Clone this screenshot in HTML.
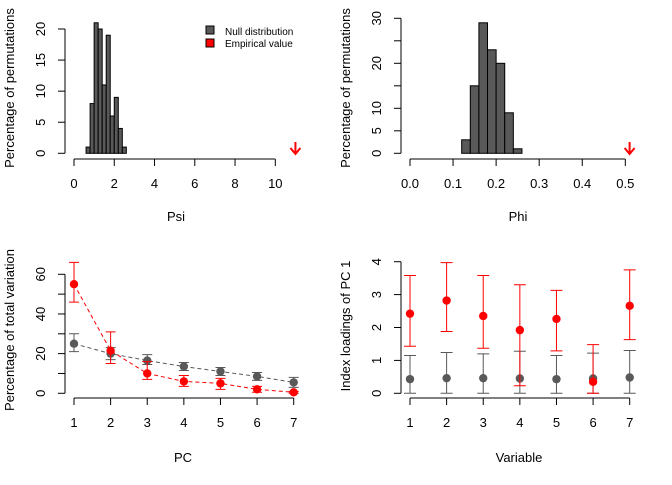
<!DOCTYPE html>
<html><head><meta charset="utf-8"><style>
body{margin:0;background:#fff;width:672px;height:480px;overflow:hidden}
svg{font-family:"Liberation Sans",sans-serif}
</style></head><body>
<svg id="s" width="672" height="480"></svg>
<script>
const psiBins=[0.6,0.8,1.0,1.2,1.4,1.6,1.8,2.0,2.2,2.4];
const psiCounts=[1,8,21,20,11,19,6,9,4,1];
const psiEmp=11;
const phiBins=[0.12,0.14,0.16,0.18,0.20,0.22,0.24];
const phiCounts=[3,15,29,23,20,9,1];
const phiEmp=0.51;
const pcs=[1,2,3,4,5,6,7];
const pcRed=[55,21.5,10,6,5,2,0.5];
const pcRedLo=[46,15,7,3.5,2,0.5,0];
const pcRedHi=[66,31,16,9,7.5,3.5,1];
const pcGrey=[25,20,16.5,13.5,11,8.5,5.5];
const pcGreyLo=[21,17,14.5,11.5,9,6.5,3];
const pcGreyHi=[30,23,19.5,15.5,13,10.5,8];
const vars=[1,2,3,4,5,6,7];
const ldRed=[2.42,2.82,2.35,1.92,2.26,0.35,2.66];
const ldRedLo=[1.43,1.88,1.37,0.23,1.29,0,1.63];
const ldRedHi=[3.58,3.97,3.58,3.3,3.13,1.48,3.75];
const ldGrey=[0.43,0.46,0.46,0.45,0.43,0.45,0.48];
const ldGreyLo=[0,0,0,0,0,0,0];
const ldGreyHi=[1.15,1.24,1.2,1.28,1.15,1.22,1.3];

const S=document.getElementById('s');const NS='http://www.w3.org/2000/svg';
function el(t,a,txt){const e=document.createElementNS(NS,t);for(const k in a)e.setAttribute(k,a[k]);if(txt!==undefined)e.textContent=txt;S.appendChild(e);return e;}
function lin(d0,d1,r0,r1){return v=>r0+(v-d0)*(r1-r0)/(d1-d0);}
function axes(x,y,xt,xlab,yt,ylab,xAxisY,yAxisX,xTitle,yTitle,xTitlePos,yTitlePos,fmt){
  let e=el('line',{x1:x(xt[0]),x2:x(xt[xt.length-1]),y1:xAxisY,y2:xAxisY,stroke:'#000'});
  
  xt.forEach((t,i)=>{el('line',{x1:x(t),x2:x(t),y1:xAxisY,y2:xAxisY+7,stroke:'#000'});
    e=el('text',{x:x(t),y:xAxisY+29,'text-anchor':'middle','font-size':13},xlab[i]);
    });
  e=el('line',{x1:yAxisX,x2:yAxisX,y1:y(yt[0]),y2:y(yt[yt.length-1]),stroke:'#000'});
  
  yt.forEach((t,i)=>{el('line',{x1:yAxisX-7,x2:yAxisX,y1:y(t),y2:y(t),stroke:'#000'});
    const lx=yAxisX-20;
    e=el('text',{x:lx,y:y(t),'text-anchor':'middle','font-size':13,transform:`rotate(-90 ${lx} ${y(t)})`},fmt?fmt(t):t);
    });
  e=el('text',{x:xTitlePos[0],y:xTitlePos[1],'text-anchor':'middle','font-size':13},xTitle);
  
  e=el('text',{x:yTitlePos[0],y:yTitlePos[1],'text-anchor':'middle','font-size':13,transform:`rotate(-90 ${yTitlePos[0]} ${yTitlePos[1]})`},yTitle);
  
}
function hist(x,y,bins,counts,w){bins.forEach((b,i)=>{const e=el('rect',{x:x(b),y:y(counts[i]),width:x(b+w)-x(b),height:y(0)-y(counts[i]),fill:'#595959',stroke:'#000','stroke-width':1});
  });}
function arrow(px,y0){const g=el('path',{d:`M${px} ${y0-12}V${y0} M${px-5} ${y0-6}L${px} ${y0}L${px+5} ${y0-6}`,stroke:'#f00','stroke-width':2,fill:'none'});
  }
// plot1
let x1=lin(0,10,74,275.3),y1=lin(0,20,153.3,29);
hist(x1,y1,psiBins,psiCounts,0.2);arrow(x1(psiEmp),154);
axes(x1,y1,[0,2,4,6,8,10],['0','2','4','6','8','10'],[0,5,10,15,20],'Psi',159,65,'Psi','Percentage of permutations',[176,221],[14,88]);
let e=el('rect',{x:206,y:26,width:8,height:8,fill:'#595959',stroke:'#000'});
e=el('text',{x:225,y:35,'font-size':10},'Null distribution');
e=el('rect',{x:206,y:39,width:8,height:8,fill:'#f00',stroke:'#000'});
e=el('text',{x:225,y:47,'font-size':10},'Empirical value');
// plot2
let x2=lin(0,0.5,410,625.3),y2=lin(0,30,153.3,18.3);
hist(x2,y2,phiBins,phiCounts,0.02);arrow(x2(phiEmp),154);
axes(x2,y2,[0,0.1,0.2,0.3,0.4,0.5],['0.0','0.1','0.2','0.3','0.4','0.5'],[0,5,10,15,20,25,30],'Phi',159,401,'Phi','Percentage of permutations',[518,221],[350,88],t=>[0,5,10,20,30].includes(t)?t:'');
// series
function series(x,y,xs,v,lo,hi,col,name){
  const p=el('polyline',{points:xs.map((c,i)=>x(c)+','+y(v[i])).join(' '),fill:'none',stroke:col,'stroke-dasharray':'4 3'});
  
  xs.forEach((c,i)=>{const X=x(c);
    const g=el('path',{d:`M${X} ${y(lo[i])}V${y(hi[i])}M${X-5} ${y(lo[i])}H${X+5}M${X-5} ${y(hi[i])}H${X+5}`,stroke:col,fill:'none'});
    
    const c2=el('circle',{cx:X,cy:y(v[i]),r:4.2,fill:col});
    });
}
let x3=lin(1,7,74,293.7),y3=lin(0,60,393.3,274.3);
series(x3,y3,pcs,pcGrey,pcGreyLo,pcGreyHi,'#595959','null');
series(x3,y3,pcs,pcRed,pcRedLo,pcRedHi,'#f00','empirical');
axes(x3,y3,pcs,pcs.map(String),[0,10,20,30,40,50,60],'PC',398,65,'PC','Percentage of total variation',[183,462],[14,330],t=>t%20===0?t:'');
let x4=lin(1,7,410,629.7),y4=lin(0,4,393.3,261.7);
function pts(x,y,xs,v,lo,hi,col,name){xs.forEach((c,i)=>{const X=x(c);
  const g=el('path',{d:`M${X} ${y(lo[i])}V${y(hi[i])}M${X-6} ${y(lo[i])}H${X+6}M${X-6} ${y(hi[i])}H${X+6}`,stroke:col,fill:'none'});
  
  const c2=el('circle',{cx:X,cy:y(v[i]),r:4.2,fill:col});
  });}
pts(x4,y4,vars,ldGrey,ldGreyLo,ldGreyHi,'#595959','null-loading');
pts(x4,y4,vars,ldRed,ldRedLo,ldRedHi,'#f00','empirical-loading');
axes(x4,y4,vars,vars.map(String),[0,1,2,3,4],'Variable',398,401,'Variable','Index loadings of PC 1',[519,462],[350,326]);
</script>
</body></html>
